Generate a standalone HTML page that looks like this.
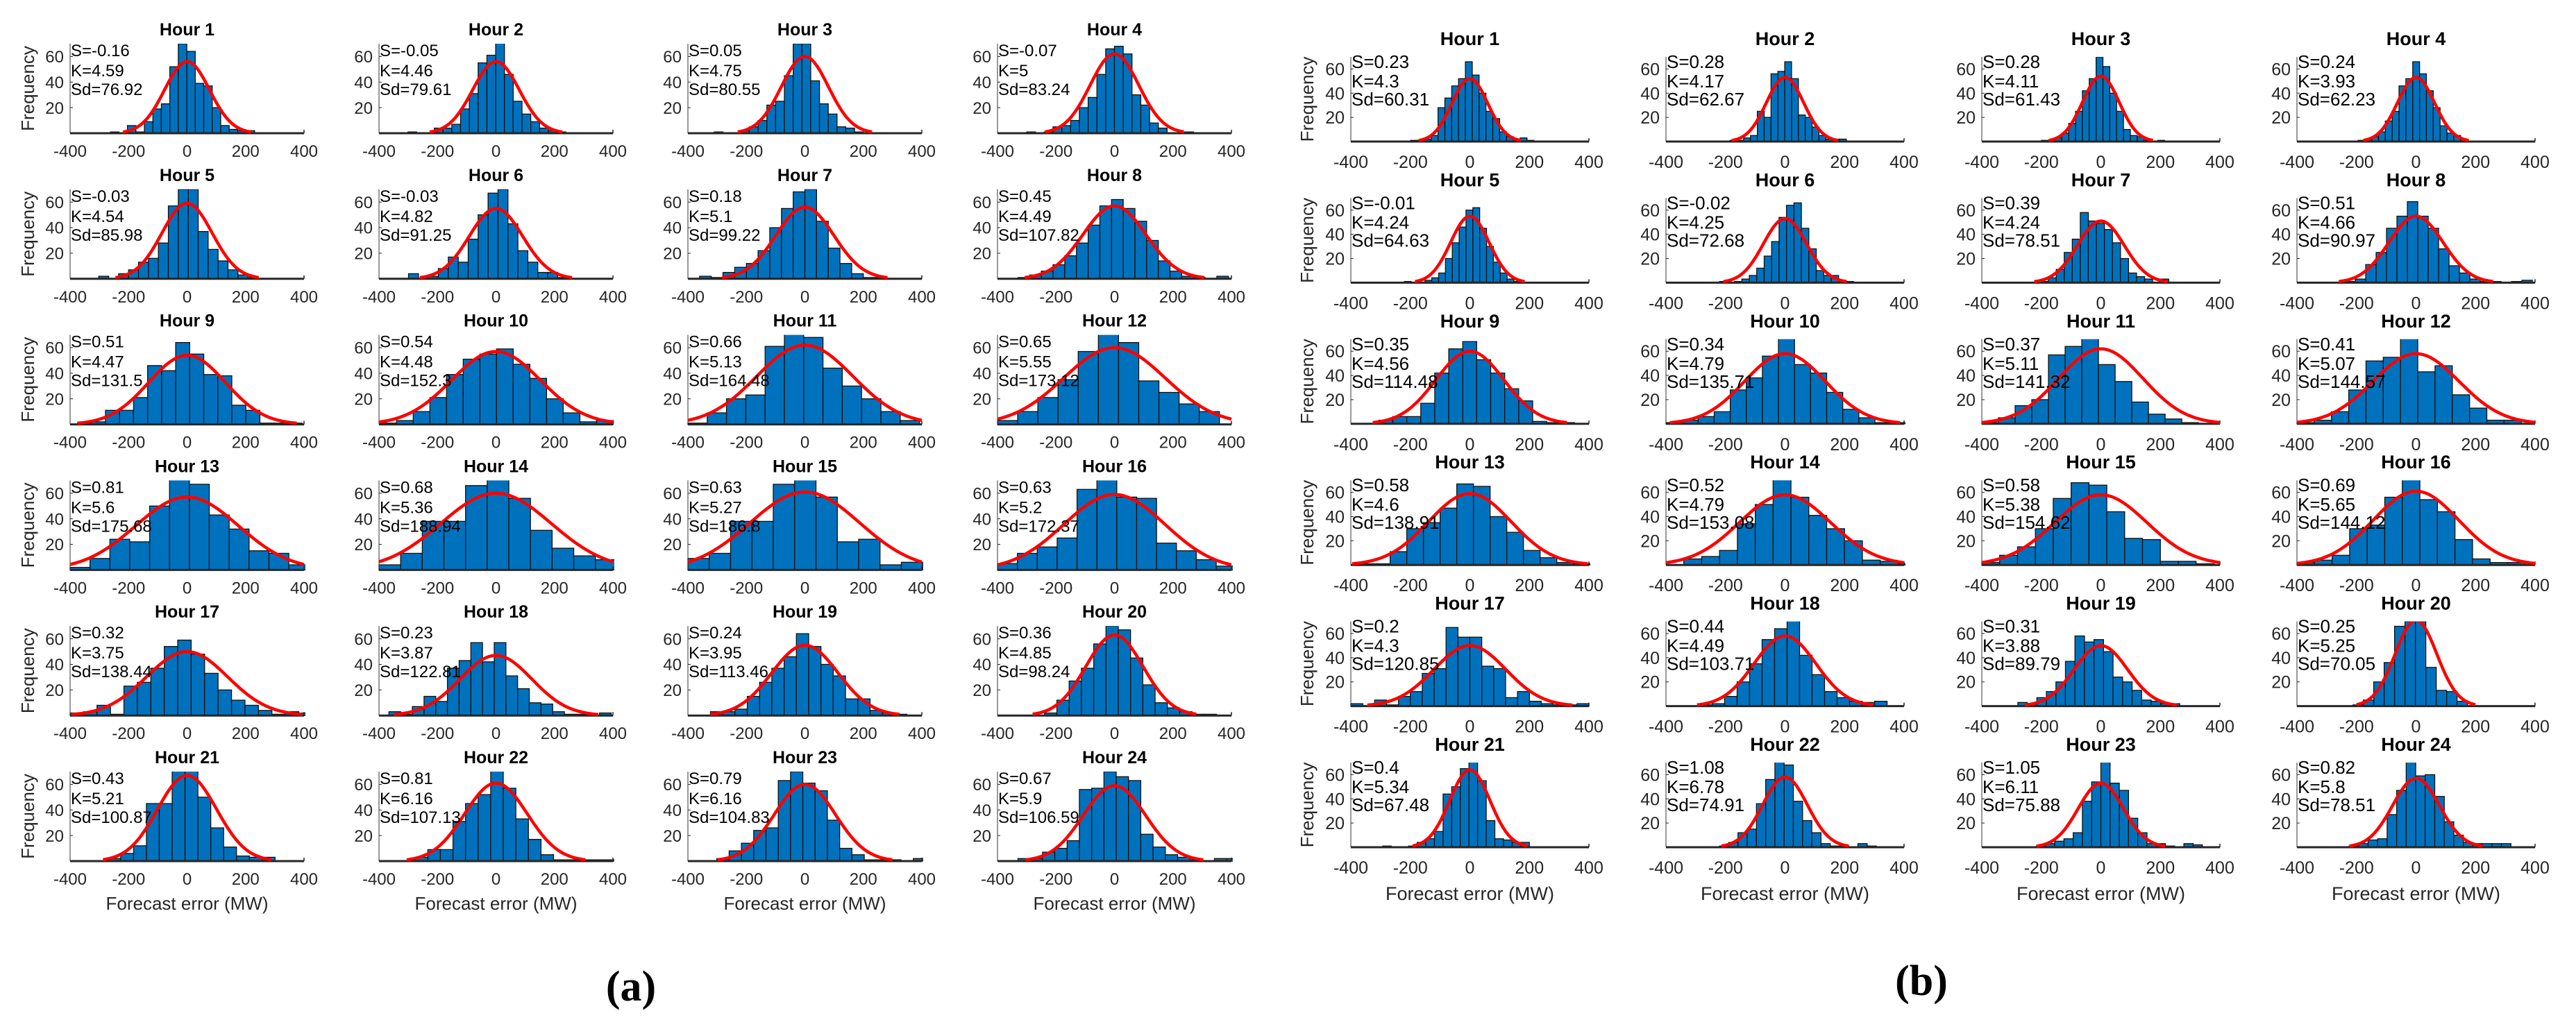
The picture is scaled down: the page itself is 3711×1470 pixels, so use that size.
<!DOCTYPE html>
<html><head><meta charset="utf-8"><style>
body{margin:0;background:#fff;}
svg{display:block;font-family:"Liberation Sans",sans-serif;}
</style></head><body>
<svg id="fig" width="3711" height="1470" viewBox="0 0 3711 1470" xmlns="http://www.w3.org/2000/svg">
<defs id="defs"></defs>
<g id="root"></g>
</svg>
<script>
// ---------- Panel (a) data ----------
const aStart=[-262,-301,-310,-300,-302,-299,-360,-330,-375,-397,-400,-400,-400,-400,-400,-400,-400,-366,-323,-239,-271,-276,-301,-330];
const aWidth=[29,30,30,30,34,34,40,40,48,57,66,69,68,74,73,68,46,40,42,42,44,43,42,42];
const aCounts=[
[1,0,6,1,9,19,23,52,70,64,39,37,20,6,3,2,2],
[1,0,0,4,4,7,19,31,55,61,71,46,25,15,9,4,2,1],
[1,0,0,2,5,10,22,25,45,70,70,41,23,15,5,4,1],
[1,0,1,5,6,10,20,28,46,66,68,62,30,22,8,4,0,0,1],
[2,0,4,7,13,16,28,57,70,70,37,23,14,7,3,1],
[4,0,2,8,17,13,31,50,67,70,43,22,13,5,5,1],
[2,1,5,9,12,22,40,55,68,70,45,24,12,4,1,1],
[1,3,6,11,18,28,42,57,62,55,45,30,14,6,2,1,0,2],
[1,2,11,11,21,46,42,64,55,39,38,15,11,1,1,1],
[1,3,10,21,39,51,55,59,47,36,20,9,2,3],
[1,9,20,23,61,71,68,44,30,20,10,3],
[3,10,21,35,57,72,64,34,25,16,10],
[2,9,24,22,50,72,67,43,32,15,13,4],
[4,13,38,38,66,72,56,31,17,11,8],
[9,13,38,38,67,71,57,22,24,4,6],
[5,13,18,25,63,72,57,56,21,15,8,3],
[2,3,8,1,23,26,37,54,59,48,33,20,12,8,4,1,3,2],
[3,1,7,15,11,37,43,57,42,57,31,21,10,9,3,1,1,0,2],
[3,3,5,15,26,37,46,64,54,40,31,13,13,4,2,1],
[2,12,27,37,56,70,67,45,24,10,6,3,1,1],
[2,6,12,45,45,72,72,50,26,11,4,3,3],
[3,9,9,31,45,52,72,57,33,17,5,1,1,1,1,1],
[2,8,14,24,26,63,70,61,55,32,10,5,1,1,1,0,2],
[2,2,7,10,16,56,57,70,66,63,21,11,5,3,1,0,2,2]];
const aS=["-0.16","-0.05","0.05","-0.07","-0.03","-0.03","0.18","0.45","0.51","0.54","0.66","0.65","0.81","0.68","0.63","0.63","0.32","0.23","0.24","0.36","0.43","0.81","0.79","0.67"];
const aK=["4.59","4.46","4.75","5","4.54","4.82","5.1","4.49","4.47","4.48","5.13","5.55","5.6","5.36","5.27","5.2","3.75","3.87","3.95","4.85","5.21","6.16","6.16","5.9"];
const aSd=[76.92,79.61,80.55,83.24,85.98,91.25,99.22,107.82,131.5,152.3,164.48,173.12,175.68,188.94,186.8,172.37,138.44,122.81,113.46,98.24,100.87,107.13,104.83,106.59];
const aPeak=[56,56,60,62,59,55,56,57,54,57,62,60,57,60,61,59,50,47,55,63,67,61,60,59];

// ---------- Panel (b) data ----------
const bStart=[-199,-185,-200,-195,-220,-220,-204,-239,-306,-400,-400,-400,-380,-340,-400,-400,-400,-287,-279,-212,-293,-220,-217,-225];
const bWidth=[23,23,23,23,23,25,27,35,47,54,56,58,56,60,60,59,40,42,32,35,29,31,31,32];
const bCounts=[
[1,1,2,5,28,36,46,52,66,55,40,25,19,8,4,2,3,1],
[1,1,3,5,25,20,56,58,66,52,22,20,12,5,2,2,2],
[1,0,3,7,15,25,42,52,70,62,40,25,10,5,4,1,0,1],
[1,2,4,8,17,25,46,52,66,56,42,28,13,7,5,2],
[1,0,0,2,4,8,20,33,46,60,62,45,30,17,8,3,1],
[1,0,1,3,6,12,22,34,54,64,66,45,28,10,6,6,2,1],
[1,4,11,25,36,58,51,49,44,33,20,8,5,3,0,3],
[1,3,15,25,45,55,67,55,45,28,14,8,3,1,1,0,1,2],
[3,6,6,17,42,62,68,53,42,29,19,2,1,1],
[1,3,6,10,28,38,56,71,49,42,26,12,5,1,1],
[1,5,15,20,57,64,71,49,35,18,8,4,1],
[1,3,10,28,52,55,71,43,48,24,13,3,3],
[1,1,11,30,35,47,67,65,40,27,12,6,2,1],
[5,7,12,34,50,72,56,41,30,20,4,3,1],
[2,8,15,30,55,68,66,44,22,21,3,3,1],
[2,4,8,30,33,56,72,54,44,21,5,2,2],
[2,0,5,1,8,12,27,31,65,57,57,33,31,7,12,4,2,1,1,2],
[1,2,8,20,35,55,64,72,42,26,12,7,4,3,4],
[3,2,7,12,20,37,58,53,55,45,24,20,13,5,4,2,2],
[1,5,20,36,66,70,70,32,13,12,4],
[1,0,0,1,4,7,13,44,50,65,72,55,22,7,6,4,4],
[1,4,12,15,36,56,72,68,38,22,12,3,1,1,0,3,1],
[1,3,5,7,12,38,54,72,53,47,24,12,3,3,1,0,3,2],
[1,3,6,7,27,47,72,59,60,42,21,10,4,3,3,3,3]];
const bS=["0.23","0.28","0.28","0.24","-0.01","-0.02","0.39","0.51","0.35","0.34","0.37","0.41","0.58","0.52","0.58","0.69","0.2","0.44","0.31","0.25","0.4","1.08","1.05","0.82"];
const bK=["4.3","4.17","4.11","3.93","4.24","4.25","4.24","4.66","4.56","4.79","5.11","5.07","4.6","4.79","5.38","5.65","4.3","4.49","3.88","5.25","5.34","6.78","6.11","5.8"];
const bSd=[60.31,62.67,61.43,62.23,64.63,72.68,78.51,90.97,114.48,135.71,141.32,144.57,138.91,153.08,154.62,144.12,120.85,103.71,89.79,70.05,67.48,74.91,75.88,78.51];
const bPeak=[52,53,54,53,55,53,51,55,60,58,62,58,59,58,58,61,50,58,50,71,64,58,53,57];

const xTicks=[-400,-200,0,200,400];
const yTicks=[20,40,60];
const xMin=-400, xMax=400, yMax=70;

const NS="http://www.w3.org/2000/svg";
const root=document.getElementById('root');
const defs=document.getElementById('defs');
function mk(tag,attrs,parent){const e=document.createElementNS(NS,tag);for(const k in attrs)e.setAttribute(k,attrs[k]);(parent||root).appendChild(e);return e;}

const panels=[
 {id:'a',cols:[101,546,991,1437],w:337,bot0:192,rowStep:209.8,h:129,fs:24,tfs:25,afs:24,ab:[18,47,74],titleOff:12,tickOff:34,ylabX:40,xlabOff:70,xfs:26,start:aStart,width:aWidth,counts:aCounts,S:aS,K:aK,Sd:aSd,peak:aPeak},
 {id:'b',cols:[1946,2400,2855,3309],w:343,bot0:204,rowStep:203.4,h:122,fs:25,tfs:27,afs:26,ab:[16,44,70],titleOff:17,tickOff:38,ylabX:1883,xlabOff:76,xfs:27,start:bStart,width:bWidth,counts:bCounts,S:bS,K:bK,Sd:bSd,peak:bPeak}
];

panels.forEach(P=>{
 const pg=mk('g',{});
 
 
 for(let i=0;i<24;i++){
  const r=Math.floor(i/4), c=i%4;
  const x0=P.cols[c], bot=P.bot0+r*P.rowStep, top=bot-P.h;
  const sx=v=>x0+(v-xMin)/(xMax-xMin)*P.w;
  const sy=v=>bot-v/yMax*P.h;
  const g=mk('g',{},pg);
  
  
  const cid='clip'+P.id+i;
  const cp=mk('clipPath',{id:cid},defs);
  mk('rect',{x:x0-2,y:top,width:P.w+4,height:P.h+2},cp);
  const bg=mk('g',{'clip-path':'url(#'+cid+')'},g);
  P.counts[i].forEach((v,k)=>{
   if(v<=0)return;
   const xa=P.start[i]+k*P.width[i], xb=xa+P.width[i];
   const b=mk('rect',{x:sx(xa),y:sy(v),width:sx(xb)-sx(xa),height:bot-sy(v),fill:'#0072BD',stroke:'#111','stroke-width':1.3},bg);
   
   
  });
  const ax=mk('line',{x1:x0,y1:top,x2:x0,y2:bot,stroke:'#333','stroke-width':1},g);
  
  
  const bx=mk('line',{x1:x0,y1:bot,x2:x0+P.w,y2:bot,stroke:'#262626','stroke-width':3},g);
  
  
  mk('line',{x1:x0+P.w,y1:bot,x2:x0+P.w,y2:bot-5,stroke:'#262626','stroke-width':1.5},g);
  const sd=P.Sd[i], pk=P.peak[i];
  const lo=Math.max(xMin,-2.85*sd), hi=Math.min(xMax,2.85*sd);
  let d='';
  for(let s=0;s<=120;s++){const xv=lo+(hi-lo)*s/120;const yv=pk*Math.exp(-xv*xv/(2*sd*sd));d+=(s?'L':'M')+sx(xv).toFixed(1)+','+sy(yv).toFixed(1);}
  const cv=mk('path',{d:d,fill:'none',stroke:'#ff0000','stroke-width':4.5,'clip-path':'url(#'+cid+')'},g);
  
  
  xTicks.forEach(t=>{
   const tl=mk('text',{x:sx(t),y:bot+P.tickOff,'font-size':P.fs,'text-anchor':'middle',fill:'#262626'},g);
   tl.textContent=t;
   
   
  });
  yTicks.forEach(t=>{
   mk('line',{x1:x0,y1:sy(t),x2:x0+4,y2:sy(t),stroke:'#262626','stroke-width':1},g);
   const tl=mk('text',{x:x0-9,y:sy(t)+P.fs*0.36,'font-size':P.fs,'text-anchor':'end',fill:'#262626'},g);
   tl.textContent=t;
   
   
  });
  const tt=mk('text',{x:x0+P.w/2,y:top-P.titleOff,'font-size':P.tfs,'font-weight':'bold','text-anchor':'middle',fill:'#000'},g);
  tt.textContent='Hour '+(i+1);
  
  
  ['S='+P.S[i],'K='+P.K[i],'Sd='+P.Sd[i]].forEach((s,k)=>{
   const st=mk('text',{x:x0+1,y:top+P.ab[k],'font-size':P.afs,fill:'#000'},g);
   st.textContent=s;
   
   
  });
  if(c===0){
   const cy=(top+bot)/2;
   const yl=mk('text',{x:P.ylabX,y:cy,'font-size':26,'text-anchor':'middle',fill:'#262626',transform:'rotate(-90 '+P.ylabX+' '+cy+') translate(0 9)'},g);
   yl.textContent='Frequency';
   
   
  }
  if(r===5){
   const xl=mk('text',{x:x0+P.w/2,y:bot+P.xlabOff,'font-size':P.xfs,'text-anchor':'middle',fill:'#262626'},g);
   xl.textContent='Forecast error (MW)';
   
   
  }
 }
});
const la=mk('text',{x:909,y:1442,'font-size':62,'font-weight':'bold','font-family':'Liberation Serif, serif','text-anchor':'middle'});
la.textContent='(a)';


const lb=mk('text',{x:2768,y:1434,'font-size':62,'font-weight':'bold','font-family':'Liberation Serif, serif','text-anchor':'middle'});
lb.textContent='(b)';


</script>
</body></html>
